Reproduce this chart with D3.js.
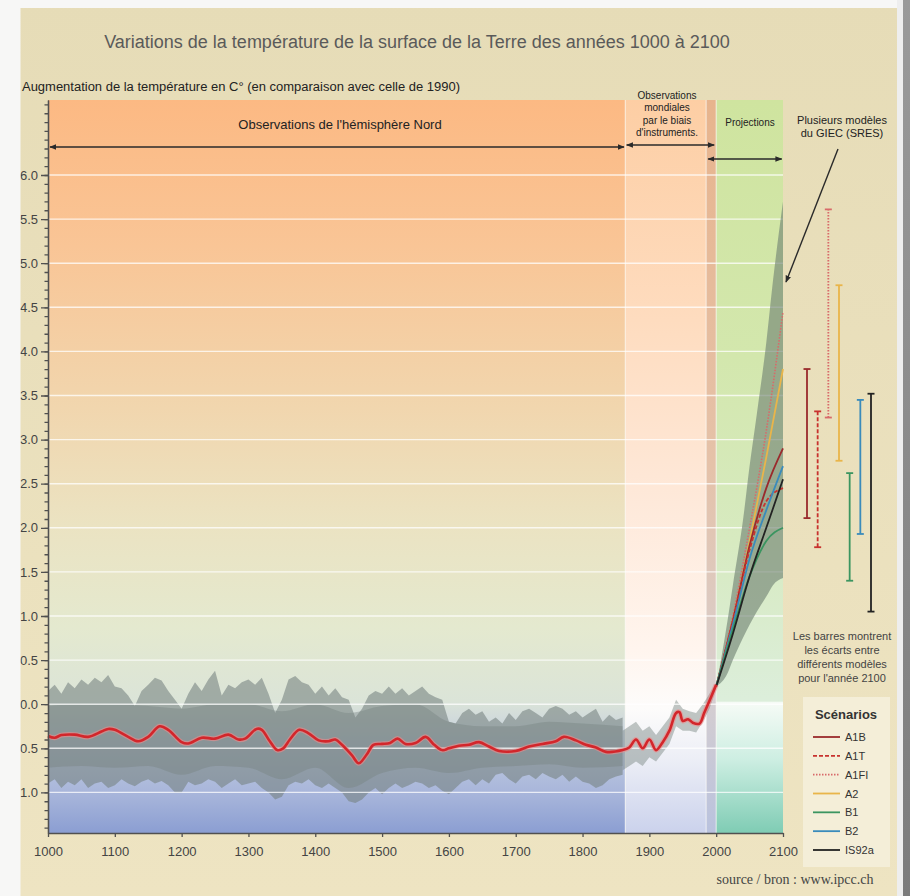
<!DOCTYPE html>
<html><head><meta charset="utf-8">
<script src="https://cdn.jsdelivr.net/npm/d3@7"></script>
<style>
body{margin:0;background:#fff}
svg{display:block}
text{font-family:"Liberation Sans",Arial,Helvetica,sans-serif}
</style>
</head><body>
<svg id="c" width="910" height="896"></svg>
<script>
// ---------------- DATA ----------------
const chartTitle = "Variations de la température de la surface de la Terre des années 1000 à 2100";
const yTitle = "Augmentation de la température en C° (en comparaison avec celle de 1990)";
const sectionNH = "Observations de l'hémisphère Nord";
const sectionInstr = ["Observations","mondiales","par le biais","d'instruments."];
const sectionProj = "Projections";
const sresNote = ["Plusieurs modèles","du GIEC (SRES)"];
const barsNote = ["Les barres montrent","les écarts entre","différents modèles","pour l'année 2100"];
const legendTitle = "Scénarios";
const sourceText = "source / bron : www.ipcc.ch";

const xTickValues = [1000,1100,1200,1300,1400,1500,1600,1700,1800,1900,2000,2100];
const yTickValues = [6.0,5.5,5.0,4.5,4.0,3.5,3.0,2.5,2.0,1.5,1.0,0.5,0.0,-0.5,-1.0];
const yTickLabels = ["6.0","5.5","5.0","4.5","4.0","3.5","3.0","2.5","2.0","1.5","1.0","0.5","0.0","-0.5","-1.0"];

// period boundaries (years)
const periodStart = [1000, 1864, 1985, 2000];
const periodEnd   = [1864, 1985, 2000, 2100];

// Northern-hemisphere reconstruction spread (annual extremes)
const bandYears = [1000,1010,1020,1030,1040,1050,1060,1070,1080,1090,1100,1110,1120,1130,1140,1150,1160,1170,1180,1190,
  1200,1210,1220,1230,1240,1250,1260,1270,1280,1290,1300,1310,1320,1330,1340,1350,1360,1370,1380,1390,
  1400,1410,1420,1430,1440,1450,1460,1470,1480,1490,1500,1510,1520,1530,1540,1550,1560,1570,1580,1590,
  1600,1610,1620,1630,1640,1650,1660,1670,1680,1690,1700,1710,1720,1730,1740,1750,1760,1770,1780,1790,
  1800,1810,1820,1830,1840,1850,1860];
const bandHigh = [0.15,0.22,0.12,0.25,0.18,0.28,0.22,0.30,0.25,0.33,0.20,0.18,0.10,-0.02,0.15,0.22,0.30,0.27,0.15,0.05,
  -0.05,0.12,0.25,0.15,0.28,0.38,0.10,0.22,0.18,0.25,0.28,0.22,0.30,0.12,-0.10,0.05,0.28,0.32,0.25,0.22,
  0.12,0.20,0.10,0.18,0.08,0.05,-0.15,-0.05,0.10,0.15,0.12,0.20,0.12,0.18,0.10,0.15,0.20,0.12,0.08,0.05,
  -0.20,-0.22,-0.10,-0.05,-0.12,-0.08,-0.20,-0.15,-0.22,-0.10,-0.18,-0.08,-0.05,-0.10,-0.15,-0.05,-0.02,-0.05,-0.12,-0.08,
  -0.15,-0.10,-0.05,-0.20,-0.12,-0.18,-0.15];
const bandLow = [-0.90,-0.85,-0.95,-0.88,-0.92,-0.85,-0.95,-0.90,-0.88,-0.95,-0.92,-0.85,-0.90,-0.93,-0.88,-0.85,-0.90,-0.87,-0.92,-1.00,
  -1.00,-0.88,-0.92,-0.90,-0.85,-0.88,-0.95,-0.90,-0.85,-0.92,-0.90,-0.88,-0.95,-1.00,-1.08,-1.05,-0.92,-0.88,-0.90,-0.85,
  -0.92,-0.95,-0.90,-0.95,-1.00,-1.10,-1.12,-1.08,-1.00,-0.95,-1.02,-0.95,-0.90,-0.95,-0.92,-0.88,-0.90,-0.95,-0.92,-0.98,
  -1.02,-0.95,-0.88,-0.85,-0.92,-0.85,-0.90,-0.80,-0.78,-0.85,-0.90,-0.82,-0.80,-0.85,-0.78,-0.82,-0.85,-0.80,-0.88,-0.82,
  -0.88,-0.90,-0.95,-0.92,-0.85,-0.82,-0.80];

// denser core of the reconstruction spread
const coreYears = [1000,1050,1100,1150,1200,1250,1300,1350,1400,1450,1500,1550,1600,1650,1700,1750,1800,1860];
const coreHigh  = [-0.02,0.0,0.0,-0.02,-0.05,0.0,0.0,-0.08,0.0,-0.10,-0.02,0.0,-0.20,-0.25,-0.25,-0.20,-0.22,-0.25];
const coreLow   = [-0.72,-0.70,-0.72,-0.70,-0.80,-0.70,-0.72,-0.85,-0.72,-0.95,-0.78,-0.72,-0.78,-0.72,-0.70,-0.68,-0.72,-0.70];

// instrumental spread
const instYears = [1860,1870,1880,1890,1900,1910,1920,1930,1940,1950,1960,1970,1980,1990,2000];
const instHigh  = [-0.30,-0.25,-0.20,-0.30,-0.25,-0.35,-0.25,-0.15,0.05,-0.05,-0.08,-0.10,0.00,0.12,0.25];
const instLow   = [-0.75,-0.70,-0.65,-0.70,-0.60,-0.65,-0.55,-0.45,-0.25,-0.30,-0.30,-0.32,-0.20,-0.05,0.18];

// smoothed observed curve (red)
const obsYears = [1000,1010,1020,1040,1060,1080,1090,1100,1120,1135,1150,1167,1180,1200,1210,1230,1250,1270,1285,1295,
  1312,1320,1332,1343,1352,1362,1376,1390,1405,1420,1430,1440,1455,1465,1477,1487,1500,1512,1523,1535,
  1550,1565,1578,1590,1600,1615,1630,1645,1660,1675,1700,1720,1740,1760,1772,1790,1805,1820,1835,1860,
  1870,1880,1890,1900,1910,1920,1930,1940,1945,1950,1958,1965,1975,1982,1990,2000];
const obsValues = [-0.36,-0.38,-0.35,-0.345,-0.37,-0.31,-0.28,-0.29,-0.37,-0.42,-0.37,-0.25,-0.29,-0.43,-0.445,-0.38,-0.39,-0.345,-0.40,-0.39,
  -0.28,-0.29,-0.42,-0.52,-0.50,-0.40,-0.29,-0.33,-0.41,-0.42,-0.40,-0.46,-0.58,-0.67,-0.57,-0.46,-0.45,-0.44,-0.39,-0.45,
  -0.44,-0.37,-0.46,-0.52,-0.50,-0.47,-0.46,-0.43,-0.48,-0.53,-0.53,-0.48,-0.45,-0.42,-0.37,-0.41,-0.46,-0.49,-0.54,-0.52,
  -0.49,-0.40,-0.50,-0.40,-0.52,-0.43,-0.30,-0.10,-0.09,-0.19,-0.17,-0.21,-0.22,-0.10,0.04,0.22];

// projections 2000-2100
const projYears = [2000,2025,2050,2075,2100];
const scenarioNames = ["A1B","A1T","A1FI","A2","B1","B2","IS92a"];
const projA1B   = [0.2,0.95,1.80,2.45,2.90];
const projA1T   = [0.2,0.95,1.75,2.30,2.45];
const projA1FI  = [0.2,1.00,2.00,3.10,4.45];
const projA2    = [0.2,0.95,1.85,2.80,3.80];
const projB1    = [0.2,0.85,1.45,1.85,2.00];
const projB2    = [0.2,0.90,1.65,2.20,2.70];
const projIS92a = [0.2,0.80,1.45,2.00,2.55];

// envelope of all SRES models
const envYears = [2000,2017,2025,2040,2050,2061,2075,2085,2100];
const envHigh  = [0.2,0.95,1.35,2.08,2.70,3.30,4.10,4.80,5.70];
const envLow   = [0.2,0.35,0.50,0.75,0.90,1.05,1.22,1.35,1.43];

// ranges of the models in 2100
const rangeLow  = [2.11,1.78,3.25,2.76,1.40,1.93,1.05];
const rangeHigh = [3.80,3.32,5.61,4.75,2.62,3.45,3.52];

// ---------------- STYLES ----------------
const scenStyle = {
  "A1B":  {color:"#9a2a2c", dash:null},
  "A1T":  {color:"#c8322e", dash:"4,2"},
  "A1FI": {color:"#d86a6a", dash:"1.5,1.5"},
  "A2":   {color:"#e9b54a", dash:null},
  "B1":   {color:"#3b9560", dash:null},
  "B2":   {color:"#3a8bbb", dash:null},
  "IS92a":{color:"#222222", dash:null}
};
const projSeries = {"A1B":projA1B,"A1T":projA1T,"A1FI":projA1FI,"A2":projA2,"B1":projB1,"B2":projB2,"IS92a":projIS92a};

// ---------------- DRAW ----------------
const W = 910, H = 896;
const svg = d3.select("#c");
const defs = svg.append("defs");

const x = d3.scaleLinear().domain([1000,2100]).range([48,783]);
const y = d3.scaleLinear().domain([-1.46,6.85]).range([833,100]);

function vgrad(id, y1, y2, stops){
  const g = defs.append("linearGradient").attr("id",id)
    .attr("gradientUnits","userSpaceOnUse").attr("x1",0).attr("x2",0).attr("y1",y1).attr("y2",y2);
  stops.forEach(s=>g.append("stop").attr("offset",s[0]).attr("stop-color",s[1]));
}
vgrad("gPanel",0,896,[[0,"#e6dcb7"],[1,"#eee4c2"]]);
vgrad("gMain",100,833,[[0,"#fcb983"],[0.2,"#f9c596"],[0.42,"#f1d6ae"],[0.58,"#ebe3c2"],[0.72,"#e4e9cf"],[0.82,"#dbe4d8"],[0.88,"#c2cce0"],[0.95,"#a6b4da"],[1,"#8b9ed2"]]);
vgrad("gInstr",100,833,[[0,"#fdcea4"],[0.3,"#fedcbf"],[0.55,"#fee9da"],[0.75,"#fff5ee"],[0.83,"#fdfcfb"],[0.9,"#eceef6"],[1,"#cbd2ec"]]);
vgrad("gStrip",100,833,[[0,"#e7b48d"],[0.5,"#e5c2a9"],[0.8,"#d8cfcf"],[1,"#b9c2de"]]);
vgrad("gProj",100,833,[[0,"#cfe49f"],[0.35,"#d3e7ad"],[0.6,"#d7eac0"],[0.82,"#dceedb"],[0.822,"#f6fbf6"],[0.9,"#cdeee2"],[1,"#7fccb4"]]);
vgrad("gShadow",0,896,[[0,"#9a9a9a"],[1,"#7c7c7c"]]);

// arrow marker
defs.append("marker").attr("id","arr").attr("viewBox","0 0 10 10").attr("refX",9).attr("refY",5)
  .attr("markerWidth",7).attr("markerHeight",7).attr("orient","auto-start-reverse").attr("markerUnits","userSpaceOnUse")
  .append("path").attr("d","M0,1 L10,5 L0,9 Z").attr("fill","#2a2a2a");

defs.append("clipPath").attr("id","panelClip").append("rect").attr("x",20.5).attr("y",8).attr("width",876.5).attr("height",H-8);

// outer page
svg.append("rect").attr("width",W).attr("height",H).attr("fill","#f7f7f6");
svg.append("rect").attr("x",897).attr("y",0).attr("width",6).attr("height",H).attr("fill","#eeeeee");
svg.append("rect").attr("x",903).attr("y",0).attr("width",7).attr("height",H).attr("fill","url(#gShadow)");

const g = svg.append("g").attr("clip-path","url(#panelClip)");
g.append("rect").attr("x",20).attr("y",8).attr("width",877).attr("height",H-8).attr("fill","url(#gPanel)");

// period backgrounds
const fills = ["url(#gMain)","url(#gInstr)","url(#gStrip)","url(#gProj)"];
g.selectAll("rect.period").data(periodStart).join("rect").attr("class","period")
  .attr("x",(d)=>x(d)).attr("width",(d,i)=>x(periodEnd[i])-x(d))
  .attr("y",y(6.85)).attr("height",y(-1.46)-y(6.85)).attr("fill",(d,i)=>fills[i]);
// thin separators
g.selectAll("line.sep").data([1864,1985,2000]).join("line").attr("class","sep")
  .attr("x1",d=>x(d)).attr("x2",d=>x(d)).attr("y1",y(6.85)).attr("y2",y(-1.46))
  .attr("stroke","#ffffff").attr("stroke-opacity",0.55).attr("stroke-width",1.2);

// reconstruction spread
const band = bandYears.map((yr,i)=>({yr,hi:bandHigh[i],lo:bandLow[i]}));
const core = coreYears.map((yr,i)=>({yr,hi:coreHigh[i],lo:coreLow[i]}));
const inst = instYears.map((yr,i)=>({yr,hi:instHigh[i],lo:instLow[i]}));
const areaGen = d3.area().x(d=>x(d.yr)).y0(d=>y(d.lo)).y1(d=>y(d.hi));
g.append("path").datum(band).attr("d",areaGen.curve(d3.curveLinear)).attr("fill","#76827f").attr("fill-opacity",0.58);
g.append("path").datum(core).attr("d",areaGen.curve(d3.curveMonotoneX)).attr("fill","#76827f").attr("fill-opacity",0.4);
g.append("path").datum(inst).attr("d",areaGen.curve(d3.curveLinear)).attr("fill","#76827f").attr("fill-opacity",0.45);

// horizontal white grid lines
g.selectAll("line.grid").data(yTickValues).join("line").attr("class","grid")
  .attr("x1",x(1000)).attr("x2",x(2100)).attr("y1",d=>y(d)).attr("y2",d=>y(d))
  .attr("stroke","#ffffff").attr("stroke-opacity",0.75).attr("stroke-width",1.4);

// projection envelope
const env = envYears.map((yr,i)=>({yr,hi:envHigh[i],lo:envLow[i]}));
g.append("path").datum(env).attr("d",d3.area().x(d=>x(d.yr)).y0(d=>y(d.lo)).y1(d=>y(d.hi)).curve(d3.curveMonotoneX))
  .attr("fill","#6f8173").attr("fill-opacity",0.62);

// projection lines
const lineGen = d3.line().x(d=>x(d.yr)).y(d=>y(d.v)).curve(d3.curveMonotoneX);
["A1FI","A2","A1B","A1T","B2","B1","IS92a"].forEach(name=>{
  const pts = projYears.map((yr,i)=>({yr,v:projSeries[name][i]}));
  g.append("path").datum(pts).attr("d",lineGen).attr("fill","none")
    .attr("stroke",scenStyle[name].color).attr("stroke-width",name==="A1FI"?1.6:1.8)
    .attr("stroke-dasharray",scenStyle[name].dash);
});

// observed smoothed curve
const obs = obsYears.map((yr,i)=>({yr,v:obsValues[i]}));
const obsLine = d3.line().x(d=>x(d.yr)).y(d=>y(d.v)).curve(d3.curveCatmullRom.alpha(0.5));
g.append("path").datum(obs).attr("d",obsLine).attr("fill","none").attr("stroke","#ee8a8a").attr("stroke-width",5).attr("stroke-opacity",0.6);
g.append("path").datum(obs).attr("d",obsLine).attr("fill","none").attr("stroke","#d3262b").attr("stroke-width",2.6);

// axes
const yAxisMajor = d3.axisLeft(y).tickValues(yTickValues).tickFormat((d,i)=>yTickLabels[i]).tickSize(7).tickPadding(3).tickSizeOuter(0);
const yMinor = d3.range(-14,69).map(v=>v/10);
const yAxisMinor = d3.axisLeft(y).tickValues(yMinor).tickFormat("").tickSize(3.5).tickSizeOuter(0);
const ya2 = g.append("g").attr("transform",`translate(${x(1000)},0)`).call(yAxisMinor);
const ya = g.append("g").attr("transform",`translate(${x(1000)},0)`).call(yAxisMajor);
[ya,ya2].forEach(a=>{a.selectAll("path,line").attr("stroke","#505050").attr("stroke-width",1.3);});
ya.selectAll("text").attr("font-size",13).attr("fill","#444");

const xa = g.append("g").attr("transform",`translate(0,${y(-1.46)})`)
  .call(d3.axisBottom(x).tickValues(xTickValues).tickFormat(d3.format("d")).tickSize(4).tickPadding(10).tickSizeOuter(0));
xa.selectAll("path,line").attr("stroke","#505050").attr("stroke-width",1.3);
xa.selectAll("text").attr("font-size",13).attr("fill","#444");

// range bars at right
const bx = d3.scalePoint().domain(scenarioNames).range([807,871]);
scenarioNames.forEach((name,i)=>{
  const st = scenStyle[name];
  const gx = bx(name);
  g.append("line").attr("x1",gx).attr("x2",gx).attr("y1",y(rangeLow[i])).attr("y2",y(rangeHigh[i]))
    .attr("stroke",st.color).attr("stroke-width",1.8).attr("stroke-dasharray",st.dash);
  [rangeLow[i],rangeHigh[i]].forEach(v=>{
    g.append("line").attr("x1",gx-3.5).attr("x2",gx+3.5).attr("y1",y(v)).attr("y2",y(v))
      .attr("stroke",st.color).attr("stroke-width",1.8);
  });
});

// titles
g.append("text").attr("x",417).attr("y",48).attr("text-anchor","middle").attr("font-size",18).attr("fill","#5a5a5a").text(chartTitle);
g.append("text").attr("x",22).attr("y",91).attr("font-size",12).attr("textLength",438).attr("lengthAdjust","spacingAndGlyphs").attr("fill","#222").text(yTitle);

// period labels and arrows
g.append("text").attr("x",340).attr("y",129).attr("text-anchor","middle").attr("font-size",13).attr("fill","#222").text(sectionNH);
sectionInstr.forEach((t,i)=>g.append("text").attr("x",667).attr("y",99+i*12.3).attr("text-anchor","middle").attr("font-size",10).attr("fill","#222").text(t));
g.append("text").attr("x",750).attr("y",126).attr("text-anchor","middle").attr("font-size",10).attr("fill","#222").text(sectionProj);
sresNote.forEach((t,i)=>g.append("text").attr("x",842).attr("y",124+i*12.5).attr("text-anchor","middle").attr("font-size",11).attr("fill","#222").text(t));

function dblArrow(x1,x2,yy){
  g.append("line").attr("x1",x1).attr("x2",x2).attr("y1",yy).attr("y2",yy)
    .attr("stroke","#2a2a2a").attr("stroke-width",1.6)
    .attr("marker-start","url(#arr)").attr("marker-end","url(#arr)");
}
dblArrow(x(1003),x(1862),147);
dblArrow(x(1866),x(1997),145);
dblArrow(x(1988),x(2098),159);
g.append("line").attr("x1",838).attr("y1",149).attr("x2",786).attr("y2",282)
  .attr("stroke","#2a2a2a").attr("stroke-width",1.4).attr("marker-end","url(#arr)");

// bars note
barsNote.forEach((t,i)=>g.append("text").attr("x",842).attr("y",640+i*14).attr("text-anchor","middle").attr("font-size",11).attr("fill","#444").text(t));

// legend
const lg = g.append("g");
lg.append("rect").attr("x",803).attr("y",697).attr("width",87).attr("height",170).attr("fill","#f4eed8");
lg.append("text").attr("x",846).attr("y",719).attr("text-anchor","middle").attr("font-size",13).attr("font-weight","bold").attr("fill","#333").text(legendTitle);
const ly = d3.scalePoint().domain(scenarioNames).range([737,850]);
scenarioNames.forEach(name=>{
  const st = scenStyle[name];
  lg.append("line").attr("x1",813).attr("x2",840).attr("y1",ly(name)).attr("y2",ly(name))
    .attr("stroke",st.color).attr("stroke-width",1.8).attr("stroke-dasharray",st.dash);
  lg.append("text").attr("x",845).attr("y",ly(name)+4).attr("font-size",11).attr("fill","#333").text(name);
});

// source
g.append("text").attr("x",795).attr("y",884).attr("text-anchor","middle").attr("font-size",14)
  .style("font-family","'Liberation Serif','DejaVu Serif',serif").attr("fill","#444").text(sourceText);
</script>
</body></html>
